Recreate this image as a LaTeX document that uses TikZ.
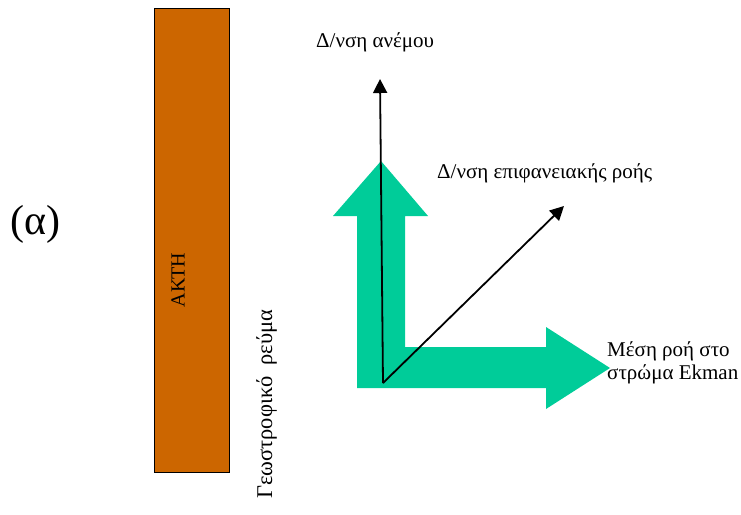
\documentclass[tikz,border=0pt]{standalone}
\usepackage{fontspec}
\setmainfont{Liberation Serif}
\usetikzlibrary{arrows.meta}
\definecolor{coast}{HTML}{CC6600}
\definecolor{flow}{HTML}{00CC99}
\begin{document}
\begin{tikzpicture}[x=1pt,y=-1pt,
  lbl/.style={inner sep=0pt,font=\fontsize{21}{23}\selectfont},
  vec/.style={line width=1.8pt,-{Triangle[length=14pt,width=14pt]}}]
\useasboundingbox (0,0) rectangle (741,514);
% coast
\node[draw=black,line width=1.2pt,fill=coast,minimum width=75pt,minimum height=464pt,inner sep=0pt,anchor=north west] (coast) at (154,8) {};
\node[lbl,rotate=90,font=\fontsize{20}{24}\selectfont] (akth) at (178,280) {ΑΚΤΗ};
\node[lbl,rotate=90,anchor=base west,font=\fontsize{22.5}{26}\selectfont] (geo) at (272,499) {Γεωστροφικό\ \ ρεύμα};
\node[lbl,anchor=west,font=\fontsize{42}{46}\selectfont] (alpha) at (10,224) {(α)};
% green L arrows
\fill[flow] (357,388) -- (357,216) -- (333,216) -- (381,161) -- (428,216) -- (405,216)
  -- (405,347) -- (546,347) -- (546,327) -- (610,368) -- (546,409) -- (546,388) -- cycle;
% vectors
\coordinate (o) at (383,383);
\coordinate (wind) at (380,79);
\coordinate (surf) at (564,206);
\draw[vec] (o) -- (wind);
\draw[vec] (o) -- (surf);
% labels
\node[lbl,anchor=base west] (lw) at (316,47) {Δ/νση ανέμου};
\node[lbl,anchor=base west] (ls) at (437,178) {Δ/νση επιφανειακής ροής};
\node[lbl,anchor=base west,align=left] (le) at (607,379) {Μέση ροή στο\\στρώμα Ekman};
\end{tikzpicture}
\end{document}
